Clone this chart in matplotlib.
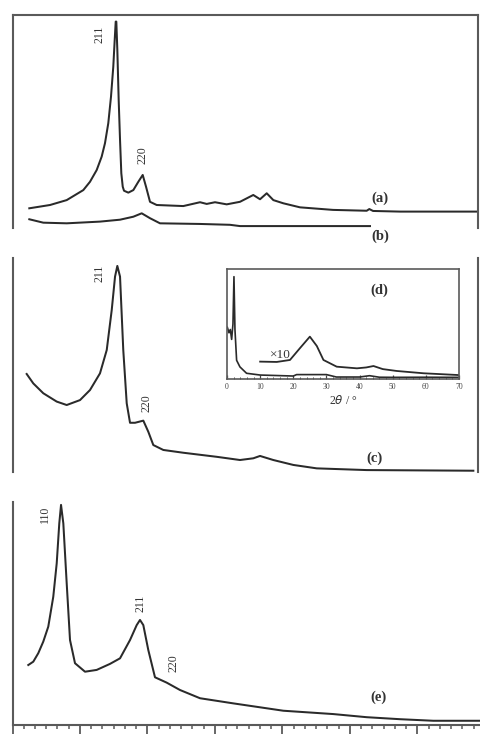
import matplotlib
matplotlib.use("Agg")
import matplotlib.pyplot as plt
from matplotlib.ticker import MultipleLocator, NullFormatter

plt.rcParams['font.family'] = ['Liberation Serif', 'DejaVu Serif']

# ---------------- data (arbitrary x units, intensity in a.u.) ----------------
a_x = [0.249, 0.556, 0.803, 1.049, 1.148, 1.247, 1.321, 1.370, 1.419, 1.459, 1.493,
       1.514, 1.529, 1.538, 1.553, 1.573, 1.593, 1.612, 1.633, 1.652, 1.716, 1.790,
       1.864, 1.929, 1.978, 2.037, 2.136, 2.530, 2.778, 2.877, 3.000, 3.173, 3.370,
       3.567, 3.667, 3.766, 3.864, 4.012, 4.259, 4.748, 5.247, 5.286, 5.341, 5.741, 6.877]
a_y = [9.25, 10.8, 13.1, 17.8, 21.7, 27.2, 33.5, 39.8, 49.2, 61.6, 75.7,
       88.3, 96.9, 96.9, 83.6, 60.1, 41.3, 25.7, 19.4, 17.5, 16.6, 17.8,
       21.7, 24.9, 19.4, 12.3, 10.8, 10.3, 12.1, 11.3, 12.1, 11.1, 12.3,
       15.5, 13.5, 16.3, 13.1, 11.6, 9.7, 8.5, 8.1, 8.9, 8.0, 7.7, 7.7]

b_x = [0.249, 0.456, 0.803, 1.296, 1.593, 1.790, 1.914, 2.037, 2.185, 2.778, 3.222, 3.370, 5.296]
b_y = [4.1, 2.5, 2.2, 3.0, 3.9, 5.3, 6.9, 4.6, 2.2, 1.9, 1.5, 0.9, 0.9]

c_x = [0.210, 0.308, 0.456, 0.655, 0.803, 1.000, 1.148, 1.296, 1.396, 1.470, 1.519,
       1.553, 1.593, 1.641, 1.692, 1.741, 1.815, 1.938, 2.012, 2.086, 2.234, 2.530,
       3.025, 3.370, 3.567, 3.667, 3.864, 4.160, 4.507, 5.247, 6.827]
c_y = [45.8, 41.4, 36.8, 32.9, 31.3, 33.6, 38.3, 46.1, 57.0, 75.7, 91.3,
       96.3, 91.3, 57.0, 32.1, 23.0, 23.0, 24.0, 18.8, 12.6, 10.3, 9.0,
       7.1, 5.6, 6.4, 7.5, 5.6, 3.3, 1.7, 0.9, 0.6]

e_x = [0.234, 0.308, 0.382, 0.456, 0.530, 0.604, 0.655, 0.693, 0.719, 0.753, 0.803,
       0.852, 0.926, 1.074, 1.247, 1.444, 1.593, 1.741, 1.840, 1.889, 1.938, 2.012,
       2.111, 2.284, 2.481, 2.778, 3.271, 4.012, 4.753, 5.247, 5.741, 6.234, 6.926]
e_y = [26.9, 28.4, 32.2, 37.4, 44.1, 57.5, 72.5, 90.4, 98.7, 90.4, 63.5,
       38.1, 27.7, 23.9, 24.7, 27.4, 29.9, 38.1, 44.8, 47.1, 44.8, 33.6,
       21.4, 19.0, 15.7, 12.0, 9.7, 6.4, 4.9, 3.5, 2.6, 1.9, 1.9]

# inset (d): wide-angle pattern, 2theta in degrees
d_x = [0.1, 0.6, 1.0, 1.4, 1.8, 2.1, 2.4, 2.9, 3.9, 5.9, 10, 20, 21, 30, 33, 40, 43, 46, 50, 60, 70]
d_y = [47, 42, 45, 36, 50, 93, 45, 17, 11, 5.2, 3.6, 2.7, 4.0, 4.0, 1.8, 1.8, 3.0, 1.6, 1.5, 1.6, 1.5]
d10_x = [10, 15, 19, 22, 25, 27.1, 29.1, 33.1, 39.2, 42, 44.2, 47, 51.2, 59.3, 69.8]
d10_y = [15.8, 15.5, 17.3, 28, 38.5, 30, 17.3, 11.2, 9.7, 10.5, 11.8, 9, 7.3, 5.2, 3.6]
d_ticks = [0, 10, 20, 30, 40, 50, 60, 70]

# ---------------- figure ----------------
W, H = 480, 734
fig = plt.figure(figsize=(W / 100, H / 100), dpi=100)

def ax_px(x0, y0, x1, y1):
    return fig.add_axes([x0 / W, 1 - y1 / H, (x1 - x0) / W, (y1 - y0) / H])

LC = '#2a2a2a'
SC = '#5a5a5a'
LW = 1.45

def style(ax, show):
    for s in ['top', 'bottom', 'left', 'right']:
        ax.spines[s].set_visible(s in show)
        ax.spines[s].set_color(SC)
        ax.spines[s].set_linewidth(1.5)
    ax.set_facecolor('none')

lab_kw = dict(fontsize=8.5, rotation=90, ha='center', va='center', color='#333333')
tag_kw = dict(fontsize=10.5, fontweight='bold', ha='center', va='center', color='#333333')

# panel 1: (a), (b)
ax1 = ax_px(12.5, 15, 478, 228)
style(ax1, ['top', 'left', 'right'])
ax1.plot(a_x, a_y, color=LC, lw=LW, solid_joinstyle='round')
ax1.plot(b_x, b_y, color=LC, lw=LW, clip_on=False, solid_joinstyle='round')
ax1.set_xlim(0, 6.896)
ax1.set_ylim(0, 100)
ax1.set_xticks([]); ax1.set_yticks([])
ax1.text(1.296, 91.1, '211', **lab_kw)
ax1.text(1.933, 34.3, '220', **lab_kw)
ax1.text(5.444, 14.1, '(a)', **tag_kw)
ax1.text(5.444, -3.8, '(b)', clip_on=False, **tag_kw)

# panel 2: (c)
ax2 = ax_px(12.5, 258, 478, 472)
style(ax2, ['left', 'right'])
ax2.plot(c_x, c_y, color=LC, lw=LW, solid_joinstyle='round')
ax2.set_xlim(0, 6.896)
ax2.set_ylim(0, 100)
ax2.set_xticks([]); ax2.set_yticks([])
ax2.text(1.296, 93.0, '211', **lab_kw)
ax2.text(1.988, 32.2, '220', **lab_kw)
ax2.text(5.37, 6.5, '(c)', **tag_kw)

# panel 3: (e)
ax3 = ax_px(12.5, 502, 480, 725)
style(ax3, ['left', 'bottom'])
ax3.plot(e_x, e_y, color=LC, lw=LW, solid_joinstyle='round')
ax3.set_xlim(0, 6.926)
ax3.set_ylim(0, 100)
ax3.set_yticks([])
ax3.xaxis.set_major_locator(MultipleLocator(1))
ax3.xaxis.set_minor_locator(MultipleLocator(1 / 6))
ax3.xaxis.set_major_formatter(NullFormatter())
ax3.tick_params(axis='x', which='major', direction='out', length=8, width=1.3, color=SC)
ax3.tick_params(axis='x', which='minor', direction='out', length=3, width=1.1, color=SC)
ax3.text(0.481, 94.6, '110', **lab_kw)
ax3.text(1.889, 54.7, '211', **lab_kw)
ax3.text(2.378, 27.8, '220', **lab_kw)
ax3.text(5.415, 12.6, '(e)', **tag_kw)

# inset (d)
axi = ax_px(227, 269, 459, 379)
for s in axi.spines.values():
    s.set_color(SC)
    s.set_linewidth(1.2)
axi.plot(d_x, d_y, color=LC, lw=1.2, solid_joinstyle='round')
axi.plot(d10_x, d10_y, color=LC, lw=1.3, solid_joinstyle='round')
axi.set_xlim(0, 70)
axi.set_ylim(0, 100)
axi.set_yticks([])
axi.set_xticks(d_ticks)
axi.xaxis.set_minor_locator(MultipleLocator(2))
axi.tick_params(axis='x', which='major', direction='in', length=3, width=0.9,
                labelsize=5.5, pad=3, colors='#444444')
axi.tick_params(axis='x', which='minor', direction='in', length=1.8, width=0.7, color='#444444')
axi.set_xlabel('2$\\theta$ / °', fontsize=8.5, labelpad=2, color='#333333')
axi.text(16, 22, '×10', fontsize=9.5, ha='center', va='center', color='#333333')
axi.text(46, 81, '(d)', **tag_kw)

fig.savefig('out.png', dpi=100)
